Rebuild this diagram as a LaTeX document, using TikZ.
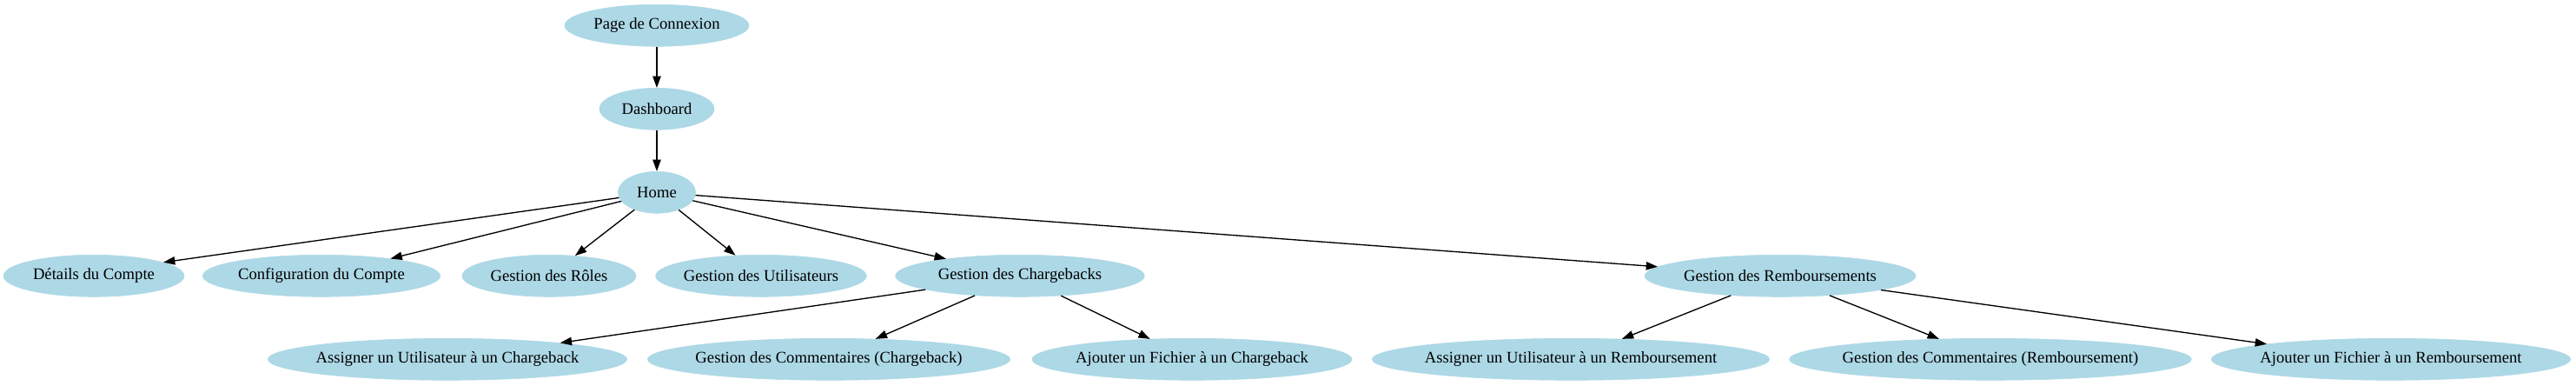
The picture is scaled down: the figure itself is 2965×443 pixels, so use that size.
\documentclass[tikz,border=0pt]{standalone}
\usepackage{fontspec}
\setmainfont{Liberation Serif}
\usetikzlibrary{shapes.geometric,arrows.meta}
\definecolor{lightblue}{HTML}{ADD8E6}
\newcommand\zwtext[1]{\makebox[0pt]{#1}}
\tikzset{
  gnode/.style={ellipse, fill=lightblue, draw=lightblue, inner sep=0pt,
    minimum height=36pt, font=\fontsize{14pt}{16pt}\selectfont},
  garrow/.style={draw=black, line width=1pt, -{Triangle[length=10pt,width=7pt]}}
}
\begin{document}
\begin{tikzpicture}[x=0.75pt,y=-0.75pt]
\useasboundingbox (0,0) rectangle (2965,443);
% rank 0-2
\node[gnode, minimum width=159pt] (pdc) at (756,29.3) {\zwtext{Page de Connexion}};
\node[gnode, minimum width=99pt] (dash) at (756,125.3) {\zwtext{Dashboard}};
\node[gnode, minimum width=67pt] (home) at (756,221.3) {\zwtext{Home}};
% rank 3
\node[gnode, minimum width=156pt] (det) at (108,317.3) {\zwtext{Détails du Compte}};
\node[gnode, minimum width=205pt] (conf) at (370,317.3) {\zwtext{Configuration du Compte}};
\node[gnode, minimum width=150pt] (roles) at (632,317.3) {\zwtext{Gestion des Rôles}};
\node[gnode, minimum width=182pt] (users) at (876,317.3) {\zwtext{Gestion des Utilisateurs}};
\node[gnode, minimum width=215pt] (cb) at (1174,317.3) {\zwtext{Gestion des Chargebacks}};
\node[gnode, minimum width=234pt] (remb) at (2049,317.3) {\zwtext{Gestion des Remboursements}};
% rank 4
\node[gnode, minimum width=310pt] (acb) at (515,413.3) {\zwtext{Assigner un Utilisateur à un Chargeback}};
\node[gnode, minimum width=313pt] (ccb) at (954,413.3) {\zwtext{Gestion des Commentaires (Chargeback)}};
\node[gnode, minimum width=276pt] (fcb) at (1372,413.3) {\zwtext{Ajouter un Fichier à un Chargeback}};
\node[gnode, minimum width=343pt] (ar) at (1808,413.3) {\zwtext{Assigner un Utilisateur à un Remboursement}};
\node[gnode, minimum width=347pt] (cr) at (2291,413.3) {\zwtext{Gestion des Commentaires (Remboursement)}};
\node[gnode, minimum width=310pt] (fr) at (2752,413.3) {\zwtext{Ajouter un Fichier à un Remboursement}};
% edges
\draw[garrow] (pdc) -- (dash);
\draw[garrow] (dash) -- (home);
\draw[garrow] (home) -- (det.11);
\draw[garrow] (home) -- (conf);
\draw[garrow] (home) -- (roles);
\draw[garrow] (home) -- (users);
\draw[garrow] (home) -- (cb);
\draw[garrow] (home) -- (remb);
\draw[garrow] (cb) -- (acb);
\draw[garrow] (cb) -- (ccb);
\draw[garrow] (cb) -- (fcb);
\draw[garrow] (remb) -- (ar);
\draw[garrow] (remb) -- (cr);
\draw[garrow] (remb) -- (fr.173);
\end{tikzpicture}
\end{document}
